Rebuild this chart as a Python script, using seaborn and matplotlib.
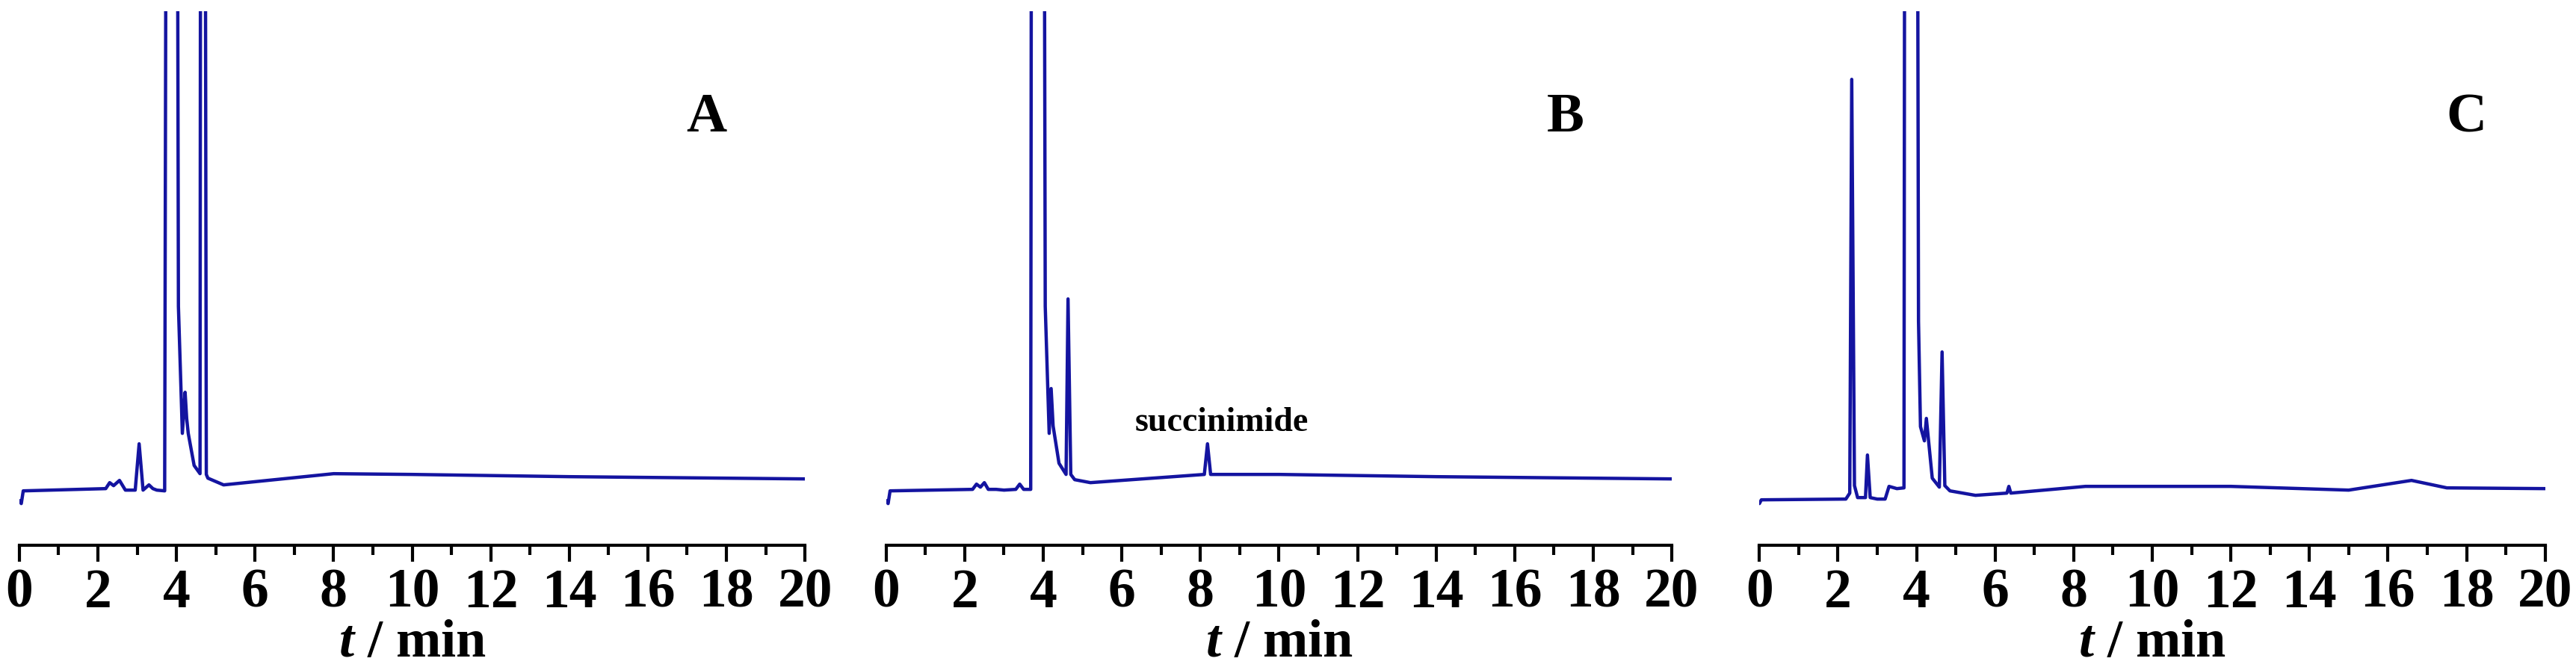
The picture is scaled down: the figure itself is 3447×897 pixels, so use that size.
import matplotlib
matplotlib.use("Agg")
import matplotlib.pyplot as plt
import pandas as pd
import seaborn as sns
from matplotlib.ticker import MultipleLocator

# Chromatogram traces (time in min, signal in arbitrary units)
TIME_A = [0.0, 0.05, 0.1, 2.2, 2.3, 2.4, 2.55, 2.7, 2.95, 3.05, 3.15, 3.3, 3.4,
          3.5, 3.7, 3.78, 3.98, 4.05, 4.15, 4.22, 4.26, 4.3, 4.45, 4.6, 4.63,
          4.7, 4.76, 4.8, 5.2, 8.0, 10.0, 14.0, 20.0]
SIGNAL_A = [60, 56, 73, 76, 84, 80, 87, 74, 74, 136, 74, 81, 76,
            74, 73, 2000, 2000, 320, 150, 205, 170, 150, 107, 96, 2000,
            2000, 95, 90, 81, 96, 95, 92, 89]

TIME_B = [0.0, 0.05, 0.1, 2.2, 2.3, 2.4, 2.5, 2.6, 2.8, 3.0, 3.3, 3.4, 3.5,
          3.68, 3.72, 3.8, 3.98, 4.05, 4.15, 4.2, 4.25, 4.4, 4.58, 4.63, 4.7,
          4.8, 5.2, 8.1, 8.18, 8.26, 10.0, 14.0, 20.0]
SIGNAL_B = [60, 56, 73, 75, 82, 78, 84, 75, 75, 74, 75, 82, 75,
            75, 2000, 2000, 2000, 320, 150, 210, 160, 110, 95, 330, 95,
            88, 84, 95, 136, 95, 95, 92, 89]

TIME_C = [0.0, 0.05, 2.2, 2.3, 2.35, 2.42, 2.5, 2.7, 2.75, 2.82, 3.0, 3.2,
          3.3, 3.5, 3.68, 3.72, 3.8, 3.98, 4.05, 4.1, 4.2, 4.25, 4.4, 4.58,
          4.65, 4.72, 4.85, 5.5, 6.3, 6.35, 6.4, 8.3, 12.0, 15.0, 16.6, 17.5,
          20.0]
SIGNAL_C = [56, 61, 62, 70, 624, 80, 64, 64, 121, 64, 62, 62,
            79, 76, 77, 2000, 2000, 2000, 300, 159, 140, 170, 90, 78,
            259, 80, 73, 67, 70, 79, 70, 79, 79, 74, 87, 77,
            76]

PANELS = ["A", "B", "C"]
LETTER_POS = [(0.875, 0.80), (0.865, 0.80), (0.90, 0.80)]
LINE_COLOR = "#1414a0"

sns.set_theme(style="white")
plt.rcParams["font.family"] = ["Liberation Serif", "DejaVu Serif"]
plt.rcParams["text.color"] = "black"
plt.rcParams["xtick.color"] = "black"
plt.rcParams["axes.labelcolor"] = "black"
plt.rcParams["mathtext.fontset"] = "custom"
plt.rcParams["mathtext.it"] = "Liberation Serif:italic:bold"
plt.rcParams["mathtext.rm"] = "Liberation Serif:bold"


def draw_panel(ax, t, s, letter, pos):
    df = pd.DataFrame({"t": t, "signal": s})
    sns.lineplot(data=df, x="t", y="signal", ax=ax, color=LINE_COLOR,
                 linewidth=3.2, sort=False, estimator=None)
    ax.set_xlim(0, 20)
    ax.set_ylim(0, 715)
    for side in ["left", "right", "top"]:
        ax.spines[side].set_visible(False)
    ax.spines["bottom"].set_linewidth(3)
    ax.spines["bottom"].set_color("black")
    ax.set_yticks([])
    ax.set_ylabel("")
    ax.xaxis.set_major_locator(MultipleLocator(2))
    ax.xaxis.set_minor_locator(MultipleLocator(1))
    ax.tick_params(axis="x", which="major", direction="out", length=16,
                   width=3, bottom=True, labelsize=53, pad=6)
    ax.tick_params(axis="x", which="minor", direction="out", length=9,
                   width=3, bottom=True)
    for lab in ax.get_xticklabels():
        lab.set_fontweight("bold")
    ax.set_xlabel("$t$ / min", fontsize=52, fontweight="bold", labelpad=0)
    ax.text(pos[0], pos[1], letter, transform=ax.transAxes, fontsize=54,
            fontweight="bold", ha="center", va="center")


fig = plt.figure(figsize=(34.47, 8.97), dpi=100)
lefts = [0.0075, 0.344, 0.683]
data = [(TIME_A, SIGNAL_A), (TIME_B, SIGNAL_B), (TIME_C, SIGNAL_C)]
axes = []
for left, (t, s), letter, pos in zip(lefts, data, PANELS, LETTER_POS):
    ax = fig.add_axes([left, 0.186, 0.305, 0.797])
    ax.patch.set_alpha(0)
    draw_panel(ax, t, s, letter, pos)
    axes.append(ax)

axes[1].text(8.55, 164, "succinimide", fontsize=33, fontweight="bold",
             ha="center", va="center")

fig.savefig("out.png", dpi=100, facecolor="white")
